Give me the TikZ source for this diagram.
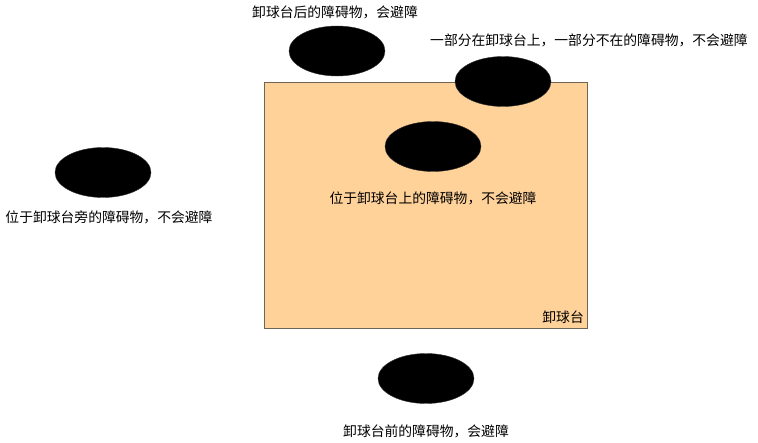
\documentclass[tikz,border=0pt]{standalone}
\usepackage{fontspec}
\setmainfont{Noto Sans CJK SC}
\usetikzlibrary{shapes.geometric}
\tikzset{
  obstacle/.style = {ellipse, fill=black, draw=black!80,
                minimum width=96pt, minimum height=50pt,
                inner sep=0pt, outer sep=0pt},
  label/.style = {font=\fontsize{13.8}{16}\selectfont, inner sep=0pt}
}
\definecolor{tablefill}{HTML}{FFD29A}
\definecolor{tableline}{HTML}{6E6557}

\begin{document}
\begin{tikzpicture}[x=1pt, y=-1pt]
	\useasboundingbox (0,0) rectangle (758,442);
	
	% Ball unloading table
	\filldraw[fill=tablefill, draw=tableline, line width=1] (264,82) rectangle (587,328);
	\node[label, anchor=south east] (table) at (584,324) {卸球台};
	
	% Obstacles
	\node[obstacle] (behind) at (337,51) {};
	\node[obstacle] (partial) at (503,81.5) {};
	\node[obstacle] (ontop) at (433,146.5) {};
	\node[obstacle] (beside) at (103,172.5) {};
	\node[obstacle] (front) at (426,378.5) {};
	
	% Labels
	\node[label, anchor=west] (behindtext) at (252,12) {卸球台后的障碍物，会避障};
	\node[label, anchor=west] (partialtext) at (430,40) {一部分在卸球台上，一部分不在的障碍物，不会避障};
	\node[label] (ontoptext) at (433,198) {位于卸球台上的障碍物，不会避障};
	\node[label] (besidetext) at (109,217) {位于卸球台旁的障碍物，不会避障};
	\node[label] (fronttext) at (426,431) {卸球台前的障碍物，会避障};
	
\end{tikzpicture}
\end{document}
